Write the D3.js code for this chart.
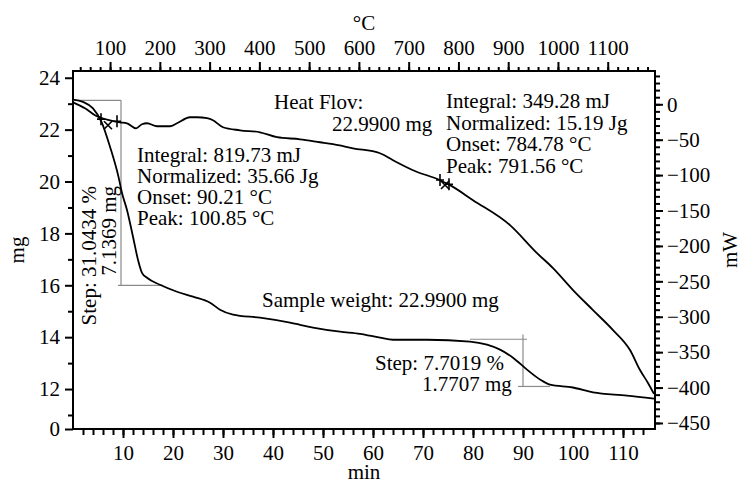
<!DOCTYPE html>
<html>
<head>
<meta charset="utf-8">
<script src="https://cdn.jsdelivr.net/npm/d3@7"></script>
<style>
  body { margin: 0; background: #fff; }
  text { font-family: "Liberation Serif", "Times New Roman", serif; fill: #000; }
</style>
</head>
<body>
<div id="plot"></div>
<script>
// TG curve: sample mass (mg) against time (min)
const tgTime = [0, 2, 4, 5.7, 7.4, 9.1, 9.8, 10.8, 12, 13, 13.8, 14.8, 17.4, 20.8, 24, 27.4, 29.4, 32, 37.4, 43.4, 48, 53.4, 57.4, 61.4, 64, 70.8, 79.4, 82.8, 85.4, 88, 90.8, 93.4, 95.4, 100, 104, 110.8, 116.2];
const tgMass = [23.16, 23.07, 22.82, 22.3, 21.34, 20.18, 19.56, 18.9, 17.87, 16.98, 16.48, 16.29, 16.02, 15.75, 15.56, 15.33, 15.06, 14.87, 14.75, 14.56, 14.37, 14.21, 14.13, 13.98, 13.9, 13.9, 13.83, 13.71, 13.52, 13.21, 12.75, 12.37, 12.17, 12.06, 11.87, 11.75, 11.63];

// DSC curve: heat flow (mW) against time (min)
const dscTime = [0, 2.4, 4.4, 7.4, 9.4, 10.8, 12.6, 13.8, 14.8, 16.8, 19.4, 20.8, 23.4, 24.8, 26.8, 28, 30, 33.4, 37.4, 40.8, 45.4, 49.4, 52, 56, 61.4, 64, 68, 73.4, 75.4, 80, 87.4, 92.8, 96, 100, 104, 108, 111.4, 113.4, 115, 116.2];
const dscPower = [2.8, -5.6, -15.5, -22.6, -25.4, -26.8, -33.9, -28.2, -26.8, -31, -31, -26.8, -18.3, -18.3, -19.7, -22.6, -32.4, -36.7, -39.5, -46.5, -49.4, -53.6, -56.4, -62.1, -69.1, -79, -93.1, -107.2, -114.2, -135.4, -170.7, -210.2, -231.3, -262.3, -290.6, -318.8, -347, -375.2, -393.5, -409];

// onset / peak markers on the DSC curve
const markerTime = [5.6, 7.0, 8.8, 73.4, 74.4, 75.2];
const markerPower = [-21, -29.6, -24, -107, -114, -113];
const markerType = ["+", "x", "+", "+", "x", "+"];

// step brackets on the TG curve (time min, mass mg)
const step1 = { tFrom: 0, tTo: 9.6, tBaseFrom: 9.0, tBaseTo: 18, massTop: 23.13, massBottom: 16.0 };
const step2 = { tFrom: 79.4, tTo: 90, tTopTo: 90.8, tBaseFrom: 89, tBaseTo: 95.4, massTop: 13.92, massVTop: 14.1, massBottom: 12.1 };

// axis ticks
const timeTicks = [10, 20, 30, 40, 50, 60, 70, 80, 90, 100, 110];
const tempTicks = [100, 200, 300, 400, 500, 600, 700, 800, 900, 1000, 1100];
const massTicks = [24, 22, 20, 18, 16, 14, 12];
const massMinor = [23, 21, 19, 17, 15, 13, 11];
const powerTicks = [0, -50, -100, -150, -200, -250, -300, -350, -400, -450];
const massBreakLabel = "0";

const stepTexts1 = ["Step: 31.0434 %", "7.1369 mg"];
const stepTexts2 = ["Step: 7.7019 %", "1.7707 mg"];
const peakTexts1 = ["Integral: 819.73 mJ", "Normalized: 35.66 Jg", "Onset: 90.21 °C", "Peak: 100.85 °C"];
const peakTexts2 = ["Integral: 349.28 mJ", "Normalized: 15.19 Jg", "Onset: 784.78 °C", "Peak: 791.56 °C"];
const heatFlowTexts = ["Heat Flov:", "22.9900 mg"];
const sampleText = "Sample weight: 22.9900 mg";

const W = 742, H = 484;
const pLeft = 73, pRight = 655, pTop = 71, pBottom = 429;
const fontSize = 21;

const svg = d3.select("#plot").append("svg")
  .attr("width", W)
  .attr("height", H);

const x = d3.scaleLinear().domain([0, 116.4]).range([pLeft, pRight]);
const xT = d3.scaleLinear().domain([25.5, 1195]).range([pLeft, pRight]);
const yM = d3.scaleLinear().domain([10.46, 24.26]).range([pBottom, pTop]);
const yW = d3.scaleLinear().domain([-458.5, 47]).range([pBottom, pTop]);

function styleAxis(g) {
  g.select(".domain").remove();
  g.selectAll("line").attr("stroke", "#000").attr("stroke-width", 2);
  g.selectAll("text").attr("font-size", fontSize).attr("font-family", "Liberation Serif");
}

// minor ticks
svg.append("g").attr("transform", `translate(0,${pBottom})`)
  .call(d3.axisBottom(x).tickValues(d3.range(2, 116, 2)).tickSize(6).tickFormat(""))
  .call(styleAxis);
svg.append("g").attr("transform", `translate(0,${pTop})`)
  .call(d3.axisTop(xT).tickValues(d3.range(40, 1195, 20)).tickSize(4).tickFormat(""))
  .call(styleAxis);
svg.append("g").attr("transform", `translate(${pLeft},0)`)
  .call(d3.axisLeft(yM).tickValues(massMinor).tickSize(5).tickFormat(""))
  .call(styleAxis);
svg.append("g").attr("transform", `translate(${pRight},0)`)
  .call(d3.axisRight(yW).tickValues(d3.range(-450, 41, 10)).tickSize(5).tickFormat(""))
  .call(styleAxis);

// major ticks
svg.append("g").attr("transform", `translate(0,${pBottom})`)
  .call(d3.axisBottom(x).tickValues(timeTicks).tickSize(9).tickPadding(7))
  .call(styleAxis);
svg.append("g").attr("transform", `translate(0,${pTop})`)
  .call(d3.axisTop(xT).tickValues(tempTicks).tickSize(9).tickPadding(7).tickFormat(d3.format("d")))
  .call(styleAxis);
const massMin = yM.domain()[0];
svg.append("g").attr("transform", `translate(${pLeft},0)`)
  .call(d3.axisLeft(yM).tickValues(massTicks.concat([massMin])).tickSize(8).tickPadding(5)
    .tickFormat(d => d === massMin ? massBreakLabel : d))
  .call(styleAxis);
svg.append("g").attr("transform", `translate(${pRight},0)`)
  .call(d3.axisRight(yW).tickValues(powerTicks).tickSize(8).tickPadding(4))
  .call(styleAxis);

// frame
svg.append("rect")
  .attr("x", pLeft).attr("y", pTop)
  .attr("width", pRight - pLeft).attr("height", pBottom - pTop)
  .attr("fill", "none").attr("stroke", "#000").attr("stroke-width", 2);

// axis titles
svg.append("text").attr("x", (pLeft + pRight) / 2).attr("y", 30)
  .attr("text-anchor", "middle").attr("font-size", fontSize).text("°C");
svg.append("text").attr("x", (pLeft + pRight) / 2).attr("y", 479)
  .attr("text-anchor", "middle").attr("font-size", fontSize).text("min");
svg.append("text").attr("transform", "translate(24,250) rotate(-90)")
  .attr("text-anchor", "middle").attr("font-size", fontSize).text("mg");
svg.append("text").attr("transform", "translate(737,250) rotate(-90)")
  .attr("text-anchor", "middle").attr("font-size", fontSize).text("mW");

// step brackets
const gray = "#8a8a8a";
function seg(x1, y1, x2, y2) {
  svg.append("line")
    .attr("x1", x1).attr("y1", y1).attr("x2", x2).attr("y2", y2)
    .attr("stroke", gray).attr("stroke-width", 1.2);
}
seg(x(step1.tFrom), yM(step1.massTop), x(step1.tTo), yM(step1.massTop));
seg(x(step1.tTo), yM(step1.massTop), x(step1.tTo), yM(step1.massBottom));
seg(x(step1.tBaseFrom), yM(step1.massBottom), x(step1.tBaseTo), yM(step1.massBottom));
seg(x(step2.tFrom), yM(step2.massTop), x(step2.tTopTo), yM(step2.massTop));
seg(x(step2.tTo), yM(step2.massVTop), x(step2.tTo), yM(step2.massBottom));
seg(x(step2.tBaseFrom), yM(step2.massBottom), x(step2.tBaseTo), yM(step2.massBottom));

// curves
const tgData = tgTime.map((t, i) => ({ t, v: tgMass[i] }));
const dscData = dscTime.map((t, i) => ({ t, v: dscPower[i] }));

svg.append("path")
  .datum(tgData)
  .attr("fill", "none").attr("stroke", "#000").attr("stroke-width", 1.8)
  .attr("d", d3.line().x(d => x(d.t)).y(d => yM(d.v)).curve(d3.curveMonotoneX));

svg.append("path")
  .datum(dscData)
  .attr("fill", "none").attr("stroke", "#000").attr("stroke-width", 1.8)
  .attr("d", d3.line().x(d => x(d.t)).y(d => yW(d.v)).curve(d3.curveMonotoneX));

// markers
const markers = markerTime.map((t, i) => ({ t, v: markerPower[i], type: markerType[i] }));
svg.selectAll(".marker")
  .data(markers)
  .enter().append("path")
  .attr("class", "marker")
  .attr("transform", d => `translate(${x(d.t)},${yW(d.v)})`)
  .attr("d", d => d.type === "+" ? "M0,-6V6M-4,0H4" : "M-4,-4L4,4M-4,4L4,-4")
  .attr("fill", "none").attr("stroke", "#000").attr("stroke-width", 1.6);

// annotations
function lines(texts, x0, y0, step) {
  texts.forEach((s, i) => {
    svg.append("text").attr("x", x0).attr("y", y0 + i * step)
      .attr("font-size", fontSize).text(s);
  });
}
lines(peakTexts1, 137, 162, 21);
lines(peakTexts2, 446, 108, 21.5);
svg.append("text").attr("x", 274).attr("y", 109).attr("font-size", fontSize).text(heatFlowTexts[0]);
svg.append("text").attr("x", 332).attr("y", 131).attr("font-size", fontSize).text(heatFlowTexts[1]);
svg.append("text").attr("x", 262).attr("y", 307).attr("font-size", fontSize).text(sampleText);
svg.append("text").attr("x", 375).attr("y", 370).attr("font-size", fontSize).text(stepTexts2[0]);
svg.append("text").attr("x", 422).attr("y", 391).attr("font-size", fontSize).text(stepTexts2[1]);

svg.append("text").attr("transform", "translate(96,186) rotate(-90)")
  .attr("text-anchor", "end").attr("font-size", fontSize).text(stepTexts1[0]);
svg.append("text").attr("transform", "translate(116,186) rotate(-90)")
  .attr("text-anchor", "end").attr("font-size", fontSize).text(stepTexts1[1]);
</script>
</body>
</html>
